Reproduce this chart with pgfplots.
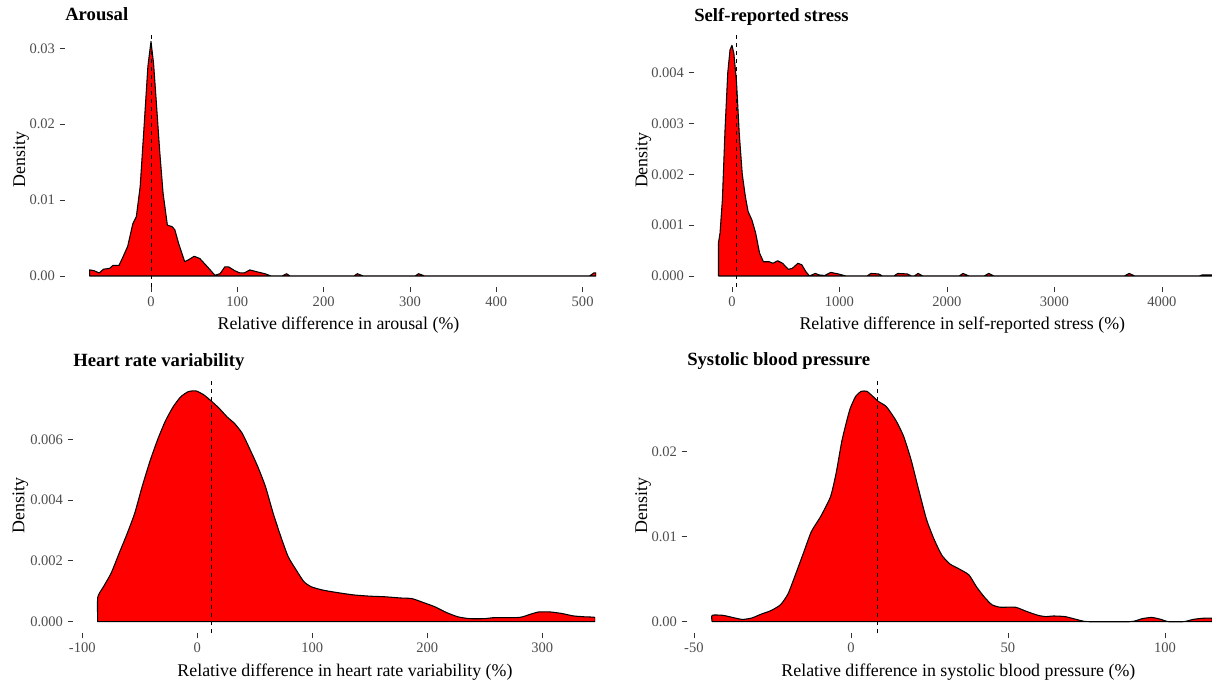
\documentclass[border=0pt]{standalone}
\usepackage{fontspec}
\setmainfont{Liberation Serif}
\usepackage{pgfplots}
\pgfplotsset{compat=1.18}
\definecolor{ticktext}{HTML}{4D4D4D}
\definecolor{tickmark}{HTML}{333333}
\pgfplotsset{
  dens/.style={
    scale only axis,
    anchor=south west,
    axis lines*=left,
    axis line style={draw=none},
    tick align=outside,
    major tick length=4pt,
    tick style={color=tickmark, line width=0.6pt},
    tick label style={font=\fontsize{10.9}{12}\selectfont, text=ticktext},
    label style={font=\fontsize{13.4}{15}\selectfont},
    every axis title shift=0pt,
    title style={font=\fontsize{14}{16}\selectfont\bfseries, inner sep=0pt, anchor=base west, at={([yshift=9pt]axis description cs:0,1)}},
    ylabel={Density},
    scaled ticks=false,
    clip=true,
  },
  area/.style={fill=red, draw=black, line width=0.8pt, line join=round},
  vline/.style={black, line width=0.7pt, dash pattern=on 3pt off 3pt},
}
\begin{document}
\begin{tikzpicture}
\path[use as bounding box] (0,0) rectangle (909pt,513.75pt);

% Arousal
\begin{axis}[dens, at={(48.75pt,298.5pt)}, width=398.25pt, height=190.7pt,
  xmin=-99.6, xmax=515.5, ymin=-0.00145, ymax=0.03206,
  xtick={0,100,200,300,400,500}, xticklabels={0,100,200,300,400,500},
  ytick={0,0.01,0.02,0.03}, yticklabels={0.00,0.01,0.02,0.03},
  title={Arousal}, xlabel={Relative difference in arousal (\%)},
  xlabel style={at={([yshift=-32.25pt]axis description cs:0.515,0)}, anchor=base},
  ylabel style={at={([xshift=-30pt]axis description cs:0,0.5)}, anchor=base}]
\addplot[area] coordinates {
(-71,0) (-71,0.0008) (-66,0.0007) (-60,0.0004) (-55,0.0009) (-48,0.0010) (-44,0.0014) (-37,0.0014)
(-32.5,0.0025) (-27,0.0039) (-21,0.0069) (-17,0.0078) (-12.5,0.0118) (-8,0.0197) (-3.6,0.0276)
(0,0.0309) (3,0.028) (6,0.0232) (10,0.0166) (14,0.0109) (19,0.0067) (24.5,0.0065) (27.6,0.0061)
(32,0.0043) (39,0.0019) (43,0.0021) (50,0.0026) (56.6,0.0023) (65.5,0.0012) (74,0.0001) (80,0.0003)
(85.5,0.0012) (90,0.0012) (97,0.0007) (103,0.0004) (108,0.0004) (114.5,0.0008) (121,0.0006)
(132,0.0003) (139,0) (152,0) (157,0.0003) (161,0) (235,0) (239,0.0003) (246,0) (306,0) (310,0.0003)
(317,0) (508,0) (513,0.0004) (515.5,0.0004) (515.5,0)
} \closedcycle;
\addplot[vline] coordinates {(0,-0.00145) (0,0.03206)};
\end{axis}

% Self-reported stress
\begin{axis}[dens, at={(520.5pt,298.5pt)}, width=388.5pt, height=190.3pt,
  xmin=-353, xmax=4466, ymin=-0.000217, ymax=0.004778,
  xtick={0,1000,2000,3000,4000}, xticklabels={0,1000,2000,3000,4000},
  ytick={0,0.001,0.002,0.003,0.004}, yticklabels={0.000,0.001,0.002,0.003,0.004},
  title={Self-reported stress}, xlabel={Relative difference in self-reported stress (\%)},
  xlabel style={at={([yshift=-32.25pt]axis description cs:0.518,0)}, anchor=base},
  ylabel style={at={([xshift=-35pt]axis description cs:0,0.5)}, anchor=base}]
\addplot[area] coordinates {
(-125,0) (-125,0.00066) (-111,0.00084) (-89,0.0015) (-64,0.0029) (-39,0.0040) (-18,0.00445)
(0,0.00454) (18,0.00438) (43,0.0038) (68,0.0028) (96,0.0020) (125,0.00156) (150,0.00127)
(186,0.0011) (221,0.00084) (257,0.00045) (293,0.00028) (346,0.00028) (382,0.00025) (425,0.0003)
(471,0.00025) (525,0.00013) (561,0.00015) (614,0.00025) (650,0.00022) (686,0.00009) (721,0)
(775,0.00005) (811,0.00002) (864,0.00001) (918,0.00007) (989,0.00004) (1061,0) (1257,0)
(1293,0.00005) (1364,0.00004) (1400,0) (1507,0) (1543,0.00005) (1632,0.00004) (1668,0) (1696,0)
(1732,0.00005) (1775,0) (2114,0) (2150,0.00005) (2204,0) (2346,0) (2389,0.00005) (2436,0)
(3650,0) (3696,0.00005) (3746,0) (4346,0) (4375,0.00002) (4466,0.00002) (4466,0)
} \closedcycle;
\addplot[vline] coordinates {(43,-0.000217) (43,0.004778)};
\end{axis}

% Heart rate variability
\begin{axis}[dens, at={(54.75pt,39pt)}, width=391.5pt, height=191.25pt,
  xmin=-108.1, xmax=345.8, ymin=-0.000372, ymax=0.008016,
  xtick={-100,0,100,200,300}, xticklabels={-100,0,100,200,300},
  ytick={0,0.002,0.004,0.006}, yticklabels={0.000,0.002,0.004,0.006},
  title={Heart rate variability}, xlabel={Relative difference in heart rate variability (\%)},
  xlabel style={at={([yshift=-32.25pt]axis description cs:0.521,0)}, anchor=base},
  ylabel style={at={([xshift=-36.5pt]axis description cs:0,0.5)}, anchor=base}]
\addplot[area, smooth, tension=0.35] coordinates {
(-86.6,0) (-86.6,0.0008) (-81.6,0.00115) (-74.9,0.0016) (-68,0.00225) (-61,0.0029) (-54.5,0.00356)
(-48,0.00444) (-41,0.0053) (-34.4,0.0060) (-27.8,0.0066) (-21,0.00707) (-14.4,0.0074) (-7.7,0.00757)
(-1,0.00759) (5.7,0.00746) (12.7,0.00724) (19,0.00702) (25.8,0.00674) (32.4,0.00652) (39,0.0062)
(46,0.00565) (52.6,0.0051) (59.3,0.00444) (66,0.00356) (72.6,0.0028) (79,0.00214) (86,0.0017)
(92.6,0.00132) (99,0.00115) (109,0.00104) (123,0.00095) (136,0.00088) (150,0.00084) (163,0.00082)
(176.6,0.00078) (186.6,0.00076) (196.6,0.00063) (206.6,0.00049) (216.7,0.0003) (226.7,0.00016)
(236.8,0.0001) (250,0.0001) (257,0.00013) (280,0.00014) (290,0.00025) (297,0.00032) (307,0.00032)
(317,0.00027) (327,0.00019) (337,0.00016) (345.8,0.00014) (345.8,0)
} \closedcycle;
\addplot[vline] coordinates {(12.7,-0.000372) (12.7,0.008016)};
\end{axis}

% Systolic blood pressure
\begin{axis}[dens, at={(515.25pt,39pt)}, width=393.75pt, height=191.25pt,
  xmin=-52.2, xmax=115, ymin=-0.00133, ymax=0.02867,
  xtick={-50,0,50,100}, xticklabels={-50,0,50,100},
  ytick={0,0.01,0.02}, yticklabels={0.00,0.01,0.02},
  title={Systolic blood pressure}, xlabel={Relative difference in systolic blood pressure (\%)},
  xlabel style={at={([yshift=-32.25pt]axis description cs:0.517,0)}, anchor=base},
  ylabel style={at={([xshift=-30pt]axis description cs:0,0.5)}, anchor=base}]
\addplot[area, smooth, tension=0.35] coordinates {
(-44.2,0) (-44.2,0.00075) (-40.8,0.00075) (-37.7,0.0005) (-34.6,0.00027) (-31.6,0.00043)
(-28.5,0.0009) (-25.5,0.0013) (-22.4,0.002) (-20,0.0033) (-17.5,0.0057) (-15,0.0082) (-12.6,0.0106)
(-9.6,0.0124) (-6.5,0.0147) (-4.7,0.0175) (-2.8,0.0214) (-0.4,0.0249) (1.5,0.0265) (3.3,0.0271)
(5.1,0.0271) (7,0.0265) (8.8,0.0259) (11.3,0.0253) (14.3,0.0237) (16.8,0.0218) (19.2,0.019)
(21.6,0.0155) (24.1,0.012) (26.6,0.0096) (29,0.0078) (31.5,0.0068) (34.5,0.0062) (37.6,0.0055)
(40,0.0041) (42.5,0.0029) (44.9,0.002) (47.6,0.0017) (52.4,0.0017) (56,0.0012) (59.6,0.00075)
(62,0.0006) (64.5,0.00067) (68.2,0.0006) (71.8,0.00027) (75.5,0) (89,0) (92.7,0.00035)
(95.8,0.0005) (98.8,0.00027) (101,0) (106,0) (109,0.00027) (112,0.0004) (115,0.0004) (115,0)
} \closedcycle;
\addplot[vline] coordinates {(8.3,-0.00133) (8.3,0.02867)};
\end{axis}
\end{tikzpicture}
\end{document}
